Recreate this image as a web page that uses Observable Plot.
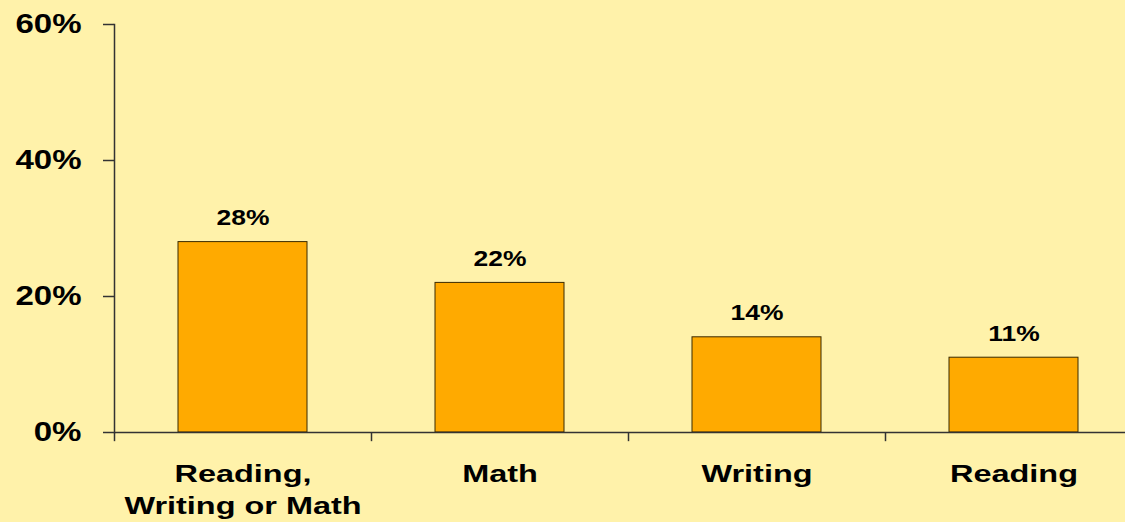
<!DOCTYPE html>
<html>
<head>
<meta charset="utf-8">
<script src="https://cdn.jsdelivr.net/npm/d3@7"></script>
<script src="https://cdn.jsdelivr.net/npm/@observablehq/plot@0.6"></script>
<style>
  html, body { margin: 0; padding: 0; background: #FFF2AA; overflow: hidden; }
  #chart svg { display: block; }
</style>
</head>
<body>
<div id="chart"></div>
<script>
const categories = ["Reading,\nWriting or Math", "Math", "Writing", "Reading"];
const values = [28, 22, 14, 11];
const yTicks = [0, 20, 40, 60];

const data = categories.map((c, i) => ({cat: c, value: values[i]}));

const chart = Plot.plot({
  width: 1125,
  height: 522,
  marginLeft: 114,
  marginRight: -17,
  marginTop: 24,
  marginBottom: 90,
  style: {
    background: "#FFF2AA",
    fontFamily: "'Liberation Sans', Arial, sans-serif",
    fontWeight: "bold",
    color: "#000"
  },
  x: {domain: categories, paddingInner: 0.5, paddingOuter: 0.25, axis: null, label: null},
  y: {domain: [0, 60], axis: null, label: null},
  marks: [
    Plot.barY(data, {x: "cat", y: "value", fill: "#FFAA00", stroke: "#3a2a00", strokeWidth: 1}),
    Plot.text(data, {x: "cat", y: "value", text: d => d.value + "%", dy: -24, fontSize: 22, fontWeight: "bold", fill: "#000"}),
    Plot.ruleY([0], {stroke: "#333", strokeWidth: 1.5}),
    Plot.frame({anchor: "left", stroke: "#333", strokeWidth: 1.5}),
    Plot.ruleX(categories, {x: d => d, y1: 0, y2: -1.35, dx: -128.5, stroke: "#333", strokeWidth: 1.5}),
    Plot.axisY({ticks: yTicks, tickFormat: d => d + "%", tickSize: 11, tickPadding: 22, fontSize: 28, fontWeight: "bold", stroke: "#333", strokeWidth: 1.5, label: null}),
    Plot.axisX({tickSize: 0, tickPadding: 26, fontSize: 23.5, fontWeight: "bold", lineHeight: 1.38, label: null})
  ]
});

document.getElementById("chart").appendChild(chart);

function stretch(selector, factor) {
  chart.querySelectorAll(selector).forEach(t => {
    const spans = t.querySelectorAll("tspan");
    const targets = spans.length ? Array.from(spans) : [t];
    targets.forEach(el => {
      const len = el.getComputedTextLength();
      if (len > 0) {
        el.setAttribute("textLength", (len * factor).toFixed(1));
        el.setAttribute("lengthAdjust", "spacingAndGlyphs");
      }
    });
  });
}
stretch('g[aria-label="y-axis tick label"] text', 1.18);
stretch('g[aria-label="x-axis tick label"] text', 1.38);
stretch('g[aria-label="text"] text', 1.2);
</script>
</body>
</html>
